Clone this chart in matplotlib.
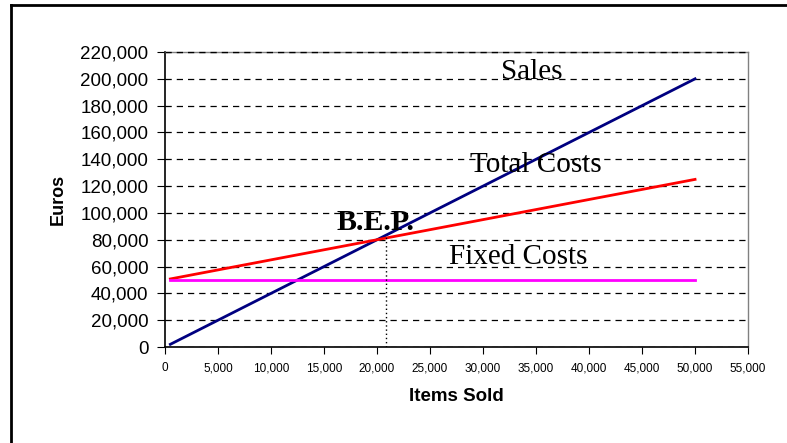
import matplotlib.pyplot as plt
from matplotlib.lines import Line2D
from matplotlib.ticker import FuncFormatter

items = [500, 50000]
sales = [2000, 200000]
total_costs = [50750, 125000]
fixed_costs = [50000, 50000]
bep_x = 20800
bep_y = 82000


def main():
    fig = plt.figure(figsize=(7.87, 4.43), dpi=100)
    ax = fig.add_axes([0.2097, 0.2167, 0.9505 - 0.2097, 0.8826 - 0.2167])

    ax.plot(items, sales, color='#000080', lw=2)
    ax.plot(items, total_costs, color='#ff0000', lw=2)
    ax.plot(items, fixed_costs, color='#ff00ff', lw=2)
    ax.plot([bep_x, bep_x], [0, bep_y], color='black', lw=1, ls=(0, (1, 2)))

    ax.set_xlim(0, 55000)
    ax.set_ylim(0, 220000)
    ax.set_xticks(range(0, 55001, 5000))
    ax.set_yticks(range(0, 220001, 20000))
    fmt = FuncFormatter(lambda v, p: f'{int(v):,}')
    ax.xaxis.set_major_formatter(fmt)
    ax.yaxis.set_major_formatter(fmt)
    ax.grid(axis='y', color='black', ls=(0, (5, 4)), lw=0.9)
    ax.set_axisbelow(True)
    ax.axhline(220000, color='black', ls=(0, (5, 4)), lw=0.9, zorder=3,
               clip_on=False)

    for s in ['top', 'right']:
        ax.spines[s].set_color('#808080')
        ax.spines[s].set_linewidth(1)
    for s in ['left', 'bottom']:
        ax.spines[s].set_color('black')
        ax.spines[s].set_linewidth(1.2)

    ax.tick_params(axis='y', labelsize=13.5, length=6, direction='out', pad=6)
    ax.tick_params(axis='x', labelsize=8.5, length=5, direction='out', pad=6)
    for lbl in ax.get_xticklabels() + ax.get_yticklabels():
        lbl.set_fontfamily('Liberation Sans')

    ax.set_xlabel('Items Sold', fontsize=13.5, fontweight='bold',
                  fontfamily='Liberation Sans', labelpad=10)
    ax.set_ylabel('Euros', fontsize=13, fontweight='bold',
                  fontfamily='Liberation Sans', labelpad=10)

    serif = dict(fontfamily='Liberation Serif', fontsize=21)
    ax.text(34600, 205000, 'Sales', ha='center', va='center', **serif)
    ax.text(35000, 135500, 'Total Costs', ha='center', va='center', **serif)
    ax.text(33300, 67000, 'Fixed Costs', ha='center', va='center', **serif)
    ax.text(19900, 92500, 'B.E.P.', ha='center', va='center',
            fontfamily='Liberation Serif', fontsize=21.5, fontweight='bold')

    # outer frame (top and left only)
    fig.add_artist(Line2D([11 / 787, 11 / 787], [0, 1 - 5 / 443],
                          transform=fig.transFigure, color='black', lw=2))
    fig.add_artist(Line2D([11 / 787, 1], [1 - 5 / 443, 1 - 5 / 443],
                          transform=fig.transFigure, color='black', lw=2))

    fig.savefig('out.png', dpi=100)


if __name__ == '__main__':
    main()
